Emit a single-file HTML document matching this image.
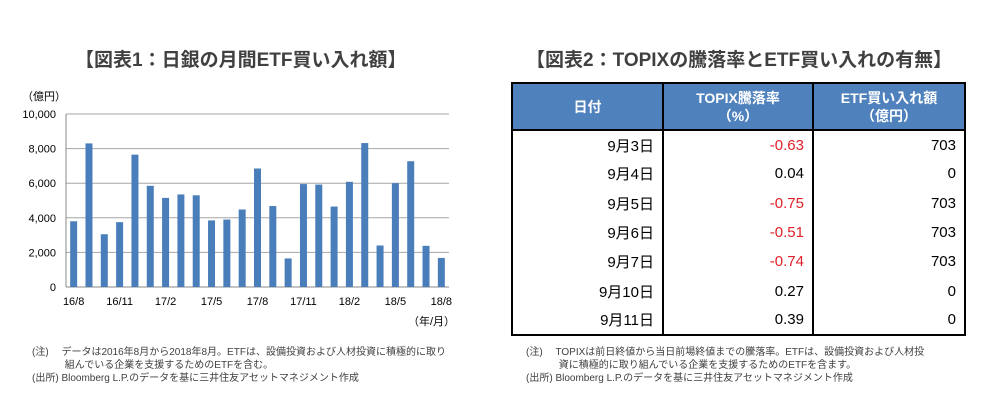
<!DOCTYPE html>
<html><head><meta charset="utf-8"><style>
body{margin:0;width:981px;height:408px;background:#fff;overflow:hidden;position:relative;font-family:"Liberation Sans","Noto Sans CJK JP",sans-serif;}
.title{position:absolute;top:45px;font-size:19px;font-weight:bold;color:#404040;white-space:nowrap;}
.note{position:absolute;font-size:10px;color:#404040;line-height:13px;white-space:nowrap;}
table{position:absolute;left:511px;top:82px;border-collapse:collapse;font-size:15px;}
td,th{border-left:2px solid #000;border-right:2px solid #000;padding:0 8px 0 0;text-align:right;height:29.3px;box-sizing:border-box;}
th{background:#4f81bd;color:#fff;text-align:center;height:47px;font-size:14px;line-height:18px;border-bottom:2px solid #000;border-top:2px solid #000;padding:0;}
tr:last-child td{border-bottom:2px solid #000;}
.neg{color:#e0202a;}
</style></head><body>
<div class="title" style="left:75px;">【図表1：日銀の月間ETF買い入れ額】</div>
<div class="title" style="left:526px;">【図表2：TOPIXの騰落率とETF買い入れの有無】</div>
<svg id="chart" width="500" height="340" style="position:absolute;left:0;top:0;font-family:'Liberation Sans','Noto Sans CJK JP',sans-serif;font-size:11px;fill:#000;"></svg>
<table>
<tr><th style="width:151px">日付</th><th style="width:150px">TOPIX騰落率<br>（%）</th><th style="width:152px">ETF買い入れ額<br>（億円）</th></tr>
<tr><td>9月3日</td><td class="neg">-0.63</td><td>703</td></tr>
<tr><td>9月4日</td><td>0.04</td><td>0</td></tr>
<tr><td>9月5日</td><td class="neg">-0.75</td><td>703</td></tr>
<tr><td>9月6日</td><td class="neg">-0.51</td><td>703</td></tr>
<tr><td>9月7日</td><td class="neg">-0.74</td><td>703</td></tr>
<tr><td>9月10日</td><td>0.27</td><td>0</td></tr>
<tr><td>9月11日</td><td>0.39</td><td>0</td></tr>
</table>
<div class="note" style="left:32px;top:346px;">(注)　 データは2016年8月から2018年8月。ETFは、設備投資および人材投資に積極的に取り<br>　　　 組んでいる企業を支援するためのETFを含む。<br>(出所) Bloomberg L.P.のデータを基に三井住友アセットマネジメント作成</div>
<div class="note" style="left:526px;top:346px;">(注)　 TOPIXは前日終値から当日前場終値までの騰落率。ETFは、設備投資および人材投<br>　　　 資に積極的に取り組んでいる企業を支援するためのETFを含ます。<br>(出所) Bloomberg L.P.のデータを基に三井住友アセットマネジメント作成</div>
<script>
const categories=["16/8","16/9","16/10","16/11","16/12","17/1","17/2","17/3","17/4","17/5","17/6","17/7","17/8","17/9","17/10","17/11","17/12","18/1","18/2","18/3","18/4","18/5","18/6","18/7","18/8"];
const values=[3800,8300,3050,3750,7650,5850,5150,5350,5300,3850,3900,4480,6850,4680,1650,5950,5920,4650,6080,8320,2400,6000,7270,2380,1680];
const yTicks=[0,2000,4000,6000,8000,10000];
const ns="http://www.w3.org/2000/svg";
const svg=document.getElementById("chart");
const x0=66,x1=449,yTop=114,yBot=287,yMax=10000;
const slot=(x1-x0)/categories.length;
const yS=v=>yBot-(v/yMax)*(yBot-yTop);
const xC=i=>x0+slot*(i+0.5);
function mk(t,a){const e=document.createElementNS(ns,t);for(const k in a)e.setAttribute(k,a[k]);svg.appendChild(e);return e;}
yTicks.forEach(v=>{
 const l=mk("line",{x1:x0,x2:x1,y1:yS(v),y2:yS(v),stroke:v===0?"#888":"#a6a6a6","stroke-width":1});
 
 
 const t=mk("text",{x:x0-10,y:yS(v)+4,"text-anchor":"end"});t.textContent=v.toLocaleString("en-US");
 
 
});
const ax=mk("line",{x1:x0,x2:x0,y1:yTop,y2:yBot,stroke:"#888"});


values.forEach((v,i)=>{
 const r=mk("rect",{x:xC(i)-3.5,y:yS(v),width:7,height:yBot-yS(v),fill:"#4a7ebb"});
 
 
 if(i%3===0){const t=mk("text",{x:xC(i),y:305,"text-anchor":"middle"});t.textContent=categories[i];
 
 }
});
const u=mk("text",{x:22,y:100});u.textContent="（億円）";


const u2=mk("text",{x:408,y:325});u2.textContent="（年/月）";


</script>
</body></html>
